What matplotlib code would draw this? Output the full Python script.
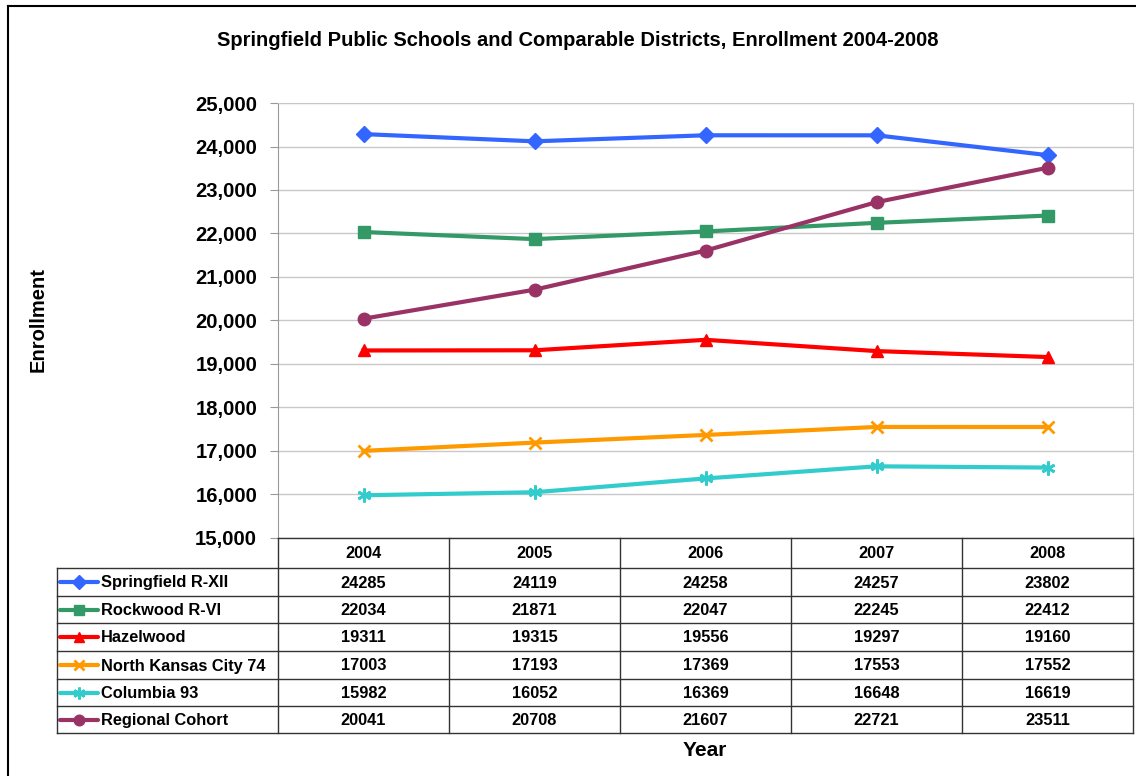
import matplotlib.pyplot as plt
import numpy as np

plt.rcParams['font.family'] = ['Liberation Sans', 'DejaVu Sans']
plt.rcParams['font.weight'] = 'bold'

years = ['2004', '2005', '2006', '2007', '2008']
springfield = [24285, 24119, 24258, 24257, 23802]
rockwood = [22034, 21871, 22047, 22245, 22412]
hazelwood = [19311, 19315, 19556, 19297, 19160]
north_kc = [17003, 17193, 17369, 17553, 17552]
columbia = [15982, 16052, 16369, 16648, 16619]
regional = [20041, 20708, 21607, 22721, 23511]

names = ['Springfield R-XII', 'Rockwood R-VI', 'Hazelwood',
         'North Kansas City 74', 'Columbia 93', 'Regional Cohort']
series = [springfield, rockwood, hazelwood, north_kc, columbia, regional]
colors = ['#3366FF', '#339966', '#FF0000', '#FF9900', '#33CCCC', '#993366']
markers = ['D', 's', '^', 'x', (6, 2, 0), 'o']
msizes = [8, 8, 9, 9, 10, 9]

W, H = 1136, 776
fig = plt.figure(figsize=(W / 100, H / 100), dpi=100)

# plot area in pixels
px0, px1, py0, py1 = 278, 1133, 103, 538
ax = fig.add_axes([px0 / W, 1 - py1 / H, (px1 - px0) / W, (py1 - py0) / H])

x = np.arange(len(years))
for vals, c, m, ms in zip(series, colors, markers, msizes):
    ax.plot(x, vals, color=c, lw=3, marker=m, ms=ms, mew=2 if m in ('x', (6, 2, 0)) else 1,
            mec=c, mfc=c, zorder=3, solid_joinstyle='round')

ax.set_xlim(-0.5, len(years) - 0.5)
ax.set_ylim(15000, 25000)
ax.set_yticks(np.arange(15000, 25001, 1000))
ax.set_yticklabels([f'{v:,}' for v in range(15000, 25001, 1000)], fontsize=14.6, fontweight='bold')
ax.set_xticks([])
ax.grid(axis='y', color='#C8C8C8', lw=1)
ax.set_axisbelow(True)
for s in ['top', 'right']:
    ax.spines[s].set_color('#C8C8C8')
ax.spines['left'].set_color('#999999')
ax.spines['bottom'].set_visible(False)
ax.tick_params(axis='y', length=6, color='#999999', pad=9)

# overlay axes in pixel units for the data table and frame
tax = fig.add_axes([0, 0, 1, 1])
tax.set_xlim(0, W)
tax.set_ylim(H, 0)
tax.axis('off')

col_w = (px1 - px0) / len(years)
row_y = [538, 568, 596, 623, 651, 679, 706, 733]
tcol = '#333333'
fs_tab = 11.8
# header row
tax.plot([px0, px1], [row_y[0], row_y[0]], color=tcol, lw=1)
for ry in row_y[1:]:
    tax.plot([57, px1], [ry, ry], color=tcol, lw=1)
tax.plot([57, 57], [row_y[1], row_y[-1]], color=tcol, lw=1)
for i in range(len(years) + 1):
    xx = px0 + i * col_w
    tax.plot([xx, xx], [row_y[0], row_y[-1]], color=tcol, lw=1)

for i, yr in enumerate(years):
    tax.text(px0 + (i + 0.5) * col_w, (row_y[0] + row_y[1]) / 2 + 1, yr,
             ha='center', va='center', fontsize=fs_tab, fontweight='bold')

for r, (name, vals, c, m, ms) in enumerate(zip(names, series, colors, markers, msizes)):
    yc = (row_y[r + 1] + row_y[r + 2]) / 2 + 1
    tax.plot([60, 98], [yc - 1, yc - 1], color=c, lw=3, solid_capstyle='round')
    tax.plot([79], [yc - 1], marker=m, color=c, ms=ms * 0.85,
             mew=2 if m in ('x', (6, 2, 0)) else 1)
    tax.text(101, yc, name, ha='left', va='center', fontsize=fs_tab, fontweight='bold')
    for i, v in enumerate(vals):
        tax.text(px0 + (i + 0.5) * col_w, yc, str(v), ha='center', va='center',
                 fontsize=fs_tab, fontweight='bold')

# chart frame
tax.plot([8, W], [6, 6], color='black', lw=1.5)
tax.plot([8, 8], [6, H], color='black', lw=1.5)

tax.text(578, 40, 'Springfield Public Schools and Comparable Districts, Enrollment 2004-2008',
         ha='center', va='center', fontsize=14.5, fontweight='bold')
tax.text(38, 320, 'Enrollment', ha='center', va='center', rotation=90,
         fontsize=14.5, fontweight='bold')
tax.text(705, 750, 'Year', ha='center', va='center', fontsize=15, fontweight='bold')

fig.savefig('out.png', dpi=100)
